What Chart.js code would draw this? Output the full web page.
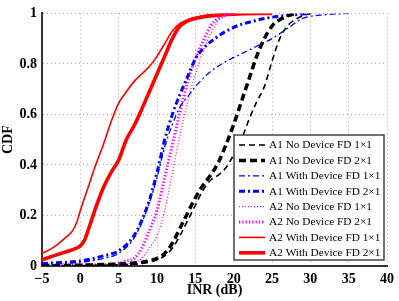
<!DOCTYPE html>
<html>
<head>
<title>INR CDF</title>
<script src="https://cdn.jsdelivr.net/npm/chart.js@4.4.0/dist/chart.umd.min.js"></script>
<style>
  body { margin: 0; background: #fff; }
  #chart-container { width: 399px; height: 301px; }
</style>
</head>
<body>
<div id="chart-container">
  <canvas id="mycanvas" width="399" height="301"></canvas>
</div>
<script>
// values (INR in dB, CDF)
var a1NoDev1x1_x = [-5, 5, 8, 10, 11, 12, 13, 14, 15, 16, 17, 18, 19, 20, 21, 22, 23, 24, 25, 26, 27, 28, 29, 30];
var a1NoDev1x1_y = [0, 0.005, 0.01, 0.025, 0.04, 0.07, 0.12, 0.18, 0.24, 0.30, 0.34, 0.36, 0.39, 0.44, 0.50, 0.58, 0.65, 0.71, 0.81, 0.90, 0.95, 0.975, 0.99, 1];

var a1NoDev2x1_x = [-5, 0, 5, 8, 10, 11, 12, 13, 14, 15, 16, 17, 18, 19, 20, 21, 22, 23, 24, 25, 26, 27, 28];
var a1NoDev2x1_y = [0, 0.003, 0.008, 0.015, 0.03, 0.05, 0.09, 0.15, 0.21, 0.27, 0.32, 0.36, 0.41, 0.48, 0.56, 0.65, 0.74, 0.83, 0.90, 0.95, 0.975, 0.99, 1];

var a1WithDev1x1_x = [-5, 0, 3, 5, 7, 8, 9, 10, 11, 12, 13, 14, 15, 17, 19, 21, 23, 25, 27, 29, 32, 35];
var a1WithDev1x1_y = [0.005, 0.015, 0.03, 0.05, 0.11, 0.17, 0.25, 0.35, 0.47, 0.56, 0.63, 0.67, 0.71, 0.77, 0.81, 0.84, 0.87, 0.90, 0.94, 0.98, 0.995, 1];

var a1WithDev2x1_x = [-5, 0, 3, 5, 7, 8, 9, 10, 11, 12, 13, 14, 15, 16, 18, 20, 22, 25, 28, 30];
var a1WithDev2x1_y = [0.01, 0.02, 0.04, 0.06, 0.12, 0.18, 0.26, 0.37, 0.50, 0.60, 0.68, 0.75, 0.82, 0.86, 0.91, 0.945, 0.965, 0.985, 0.995, 1];

var a2NoDev1x1_x = [-5, 5, 7, 8, 9, 10, 11, 12, 13, 14, 15, 16, 17, 18, 19, 20];
var a2NoDev1x1_y = [0, 0.005, 0.015, 0.03, 0.07, 0.12, 0.22, 0.37, 0.52, 0.65, 0.76, 0.85, 0.92, 0.97, 0.99, 1];

var a2NoDev2x1_x = [-5, 0, 5, 6, 7, 8, 9, 10, 11, 12, 13, 14, 15, 16, 17, 18, 19, 20];
var a2NoDev2x1_y = [0.005, 0.005, 0.01, 0.02, 0.03, 0.07, 0.14, 0.22, 0.35, 0.48, 0.61, 0.73, 0.82, 0.89, 0.95, 0.98, 0.995, 1];

var a2WithDev1x1_x = [-5, -4, -3, -2, -1, -0.5, 0, 1, 2, 3, 4, 5, 6, 7, 8, 9, 10, 11, 12, 13, 14, 15, 17, 20];
var a2WithDev1x1_y = [0.05, 0.065, 0.085, 0.11, 0.14, 0.17, 0.22, 0.31, 0.40, 0.48, 0.57, 0.645, 0.69, 0.73, 0.76, 0.79, 0.83, 0.88, 0.93, 0.96, 0.975, 0.985, 0.995, 1];

var a2WithDev2x1_x = [-5, -4, -3, -2, -1, 0, 0.5, 1, 2, 3, 4, 5, 6, 7, 8, 9, 10, 11, 12, 13, 14, 15, 17, 20, 25];
var a2WithDev2x1_y = [0.025, 0.035, 0.045, 0.055, 0.065, 0.08, 0.1, 0.14, 0.23, 0.31, 0.37, 0.42, 0.50, 0.555, 0.62, 0.69, 0.76, 0.83, 0.90, 0.95, 0.97, 0.98, 0.99, 0.997, 1];

var seriesNames = [
  'A1 No Device FD 1\u00d71', 'A1 No Device FD 2\u00d71',
  'A1 With Device FD 1\u00d71', 'A1 With Device FD 2\u00d71',
  'A2 No Device FD 1\u00d71', 'A2 No Device FD 2\u00d71',
  'A2 With Device FD 1\u00d71', 'A2 With Device FD 2\u00d71'
];

var xTicks = [-5, 0, 5, 10, 15, 20, 25, 30, 35, 40];
var yTicks = [0, 0.2, 0.4, 0.6, 0.8, 1];

function pts(xs, ys) {
  var out = [];
  for (var i = 0; i < xs.length; i++) out.push({x: xs[i], y: ys[i]});
  return out;
}

function ds(label, xs, ys, color, width, dash) {
  return {
    label: label,
    data: pts(xs, ys),
    borderColor: color,
    backgroundColor: color,
    borderWidth: width,
    borderDash: dash,
    pointRadius: 0,
    fill: false,
    cubicInterpolationMode: 'monotone'
  };
}

var datasets = [
  ds(seriesNames[0], a1NoDev1x1_x, a1NoDev1x1_y, '#000000', 1.6, [6, 4]),
  ds(seriesNames[1], a1NoDev2x1_x, a1NoDev2x1_y, '#000000', 3.5, [7, 4]),
  ds(seriesNames[2], a1WithDev1x1_x, a1WithDev1x1_y, '#0000ff', 1.3, [6, 3, 2, 3]),
  ds(seriesNames[3], a1WithDev2x1_x, a1WithDev2x1_y, '#0000ff', 3, [6, 3, 2, 3]),
  ds(seriesNames[4], a2NoDev1x1_x, a2NoDev1x1_y, '#ff00ff', 1.3, [1, 2]),
  ds(seriesNames[5], a2NoDev2x1_x, a2NoDev2x1_y, '#ff00ff', 3, [1.3, 2]),
  ds(seriesNames[6], a2WithDev1x1_x, a2WithDev1x1_y, '#ff0000', 1.6, []),
  ds(seriesNames[7], a2WithDev2x1_x, a2WithDev2x1_y, '#ff0000', 3.6, [])
];

// legend box drawn inside the plot, lower right
var boxLegend = {
  id: 'boxLegend',
  afterDraw: function(chart) {
    var ctx = chart.ctx;
    var x0 = 234, y0 = 135, w = 150, h = 125;
    ctx.save();
    ctx.fillStyle = '#fff';
    ctx.fillRect(x0, y0, w, h);
    ctx.strokeStyle = '#444';
    ctx.lineWidth = 1.5;
    ctx.strokeRect(x0, y0, w, h);
    ctx.font = '11.3px "Liberation Serif", serif';
    ctx.textBaseline = 'middle';
    ctx.fillStyle = '#000';
    chart.data.datasets.forEach(function(d, i) {
      var yy = y0 + 10 + i * 15.4;
      ctx.save();
      ctx.strokeStyle = d.borderColor;
      ctx.lineWidth = d.borderWidth;
      ctx.setLineDash(d.borderDash);
      ctx.beginPath();
      ctx.moveTo(x0 + 5, yy);
      ctx.lineTo(x0 + 31, yy);
      ctx.stroke();
      ctx.restore();
      ctx.fillText(d.label, x0 + 35, yy + 0.5);
    });
    ctx.restore();
  }
};

var tickFont = { family: '"Liberation Serif", serif', size: 14, weight: 'bold' };

new Chart(document.getElementById('mycanvas'), {
  type: 'line',
  data: { datasets: datasets },
  options: {
    responsive: false,
    animation: false,
    layout: { padding: { top: 11, right: 10, left: 0, bottom: 0 } },
    plugins: { legend: { display: false }, tooltip: { enabled: false } },
    scales: {
      x: {
        type: 'linear',
        min: -5, max: 40,
        afterBuildTicks: function(s) { s.ticks = xTicks.map(function(v) { return {value: v}; }); },
        afterFit: function(s) { s.height = 35; },
        ticks: {
          color: '#000', font: tickFont, padding: 5, maxRotation: 0,
          callback: function(v) { return v < 0 ? '\u2212' + Math.abs(v) : String(v); }
        },
        grid: { color: '#aaa', lineWidth: 1, drawTicks: false },
        border: { color: '#333', width: 2, dash: [1, 3] },
        title: { display: true, text: 'INR (dB)', color: '#000', font: tickFont, padding: { top: 0, bottom: 2 } }
      },
      y: {
        min: 0, max: 1,
        afterBuildTicks: function(s) { s.ticks = yTicks.map(function(v) { return {value: v}; }); },
        afterFit: function(s) { s.width = 42; },
        ticks: { color: '#000', font: tickFont, padding: 5, callback: function(v) { return String(v); } },
        grid: { color: '#aaa', lineWidth: 1, drawTicks: false },
        border: { color: '#333', width: 2, dash: [1, 3] },
        title: { display: true, text: 'CDF', color: '#000', font: tickFont, padding: { top: 0, bottom: 0 } }
      }
    }
  },
  plugins: [boxLegend]
});
</script>
</body>
</html>
